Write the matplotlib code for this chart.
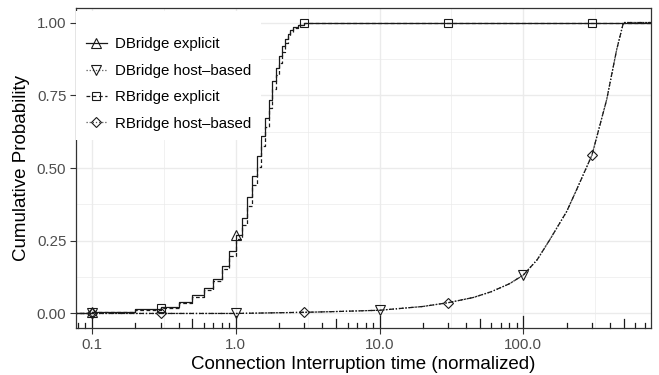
import numpy as np
import matplotlib
matplotlib.use("Agg")
import matplotlib.pyplot as plt
from matplotlib.lines import Line2D
from matplotlib.transforms import blended_transform_factory

plt.rcParams['font.family'] = ['Liberation Sans', 'DejaVu Sans']

# ECDF of the explicit variants (step positions and cumulative probability)
dbr_exp_x = [0.1, 0.2, 0.3, 0.4, 0.5, 0.6, 0.7, 0.8, 0.9, 1.0, 1.1, 1.2, 1.3, 1.4,
             1.5, 1.6, 1.7, 1.8, 1.9, 2.0, 2.1, 2.2, 2.3, 2.4, 2.5, 2.7, 3.0]
dbr_exp_y = [0.005, 0.014, 0.022, 0.040, 0.062, 0.088, 0.120, 0.163, 0.214, 0.271,
             0.329, 0.400, 0.472, 0.541, 0.610, 0.672, 0.735, 0.800, 0.845, 0.885,
             0.920, 0.945, 0.962, 0.975, 0.985, 0.993, 1.000]
rbr_exp_x = dbr_exp_x
rbr_exp_y = [0.004, 0.012, 0.020, 0.036, 0.058, 0.082, 0.112, 0.152, 0.198, 0.255,
             0.305, 0.370, 0.440, 0.505, 0.575, 0.640, 0.705, 0.770, 0.820, 0.860,
             0.900, 0.930, 0.952, 0.968, 0.980, 0.990, 1.000]

# host-based variants follow the same curve
host_x = [0.1, 0.3, 1.0, 3.0, 4.5, 10, 20, 30, 45, 60, 80, 100, 125, 153, 200, 235,
          300, 380, 446, 497]
host_y = [0.0, 0.0, 0.0, 0.004, 0.006, 0.011, 0.024, 0.037, 0.055, 0.075, 0.102,
          0.132, 0.185, 0.254, 0.350, 0.426, 0.544, 0.735, 0.907, 1.0]

# where the point symbols sit on each curve
dbr_exp_marks = [0.1, 1.0]
dbr_host_marks = [0.1, 1.0, 10, 100]
rbr_exp_marks = [0.3, 3.0, 30, 300]
rbr_host_marks = [0.1, 0.3, 3.0, 30, 300]

x_breaks = [0.1, 1.0, 10.0, 100.0]
x_labels = ["0.1", "1.0", "10.0", "100.0"]
y_breaks = [0.0, 0.25, 0.5, 0.75, 1.0]
y_labels = ["0.00", "0.25", "0.50", "0.75", "1.00"]

XMIN, XMAX = 0.0774, 773
INK = '#1a1a1a'


def step_at(xs, ys, v):
    idx = np.searchsorted(xs, v, side='right') - 1
    return ys[idx] if idx >= 0 else 0.0


fig = plt.figure(figsize=(6.59, 3.75), dpi=100)
ax = fig.add_axes([0.1153, 0.1253, 0.8726, 0.8534])
ax.set_xscale('log')
ax.set_xlim(XMIN, XMAX)
ax.set_ylim(-0.05, 1.05)

# grid (major + minor) in theme_bw style
for v in x_breaks:
    ax.axvline(v, color='#ebebeb', lw=1.0, zorder=0)
for v in [10 ** -0.5, 10 ** 0.5, 10 ** 1.5, 10 ** 2.5]:
    ax.axvline(v, color='#ebebeb', lw=0.5, zorder=0)
for v in y_breaks:
    ax.axhline(v, color='#ebebeb', lw=1.0, zorder=0)
for v in [0.125, 0.375, 0.625, 0.875]:
    ax.axhline(v, color='#ebebeb', lw=0.5, zorder=0)

lw = 0.9
# explicit ECDFs as step lines padded to the panel edges
xs = [0.01] + dbr_exp_x + [1000]
ax.plot(xs, [0] + dbr_exp_y + [dbr_exp_y[-1]], drawstyle='steps-post',
        color=INK, lw=lw, ls='-', zorder=3)
ax.plot(xs, [0] + rbr_exp_y + [rbr_exp_y[-1]], drawstyle='steps-post',
        color=INK, lw=lw, ls=(0, (3, 2)), zorder=3)

hx = [0.01] + host_x + [1000]
hy = [0.0] + host_y + [1.0]
ax.plot(hx, hy, color=INK, lw=lw, ls=(0, (4, 1.5, 1, 1.5)), zorder=3)
ax.plot(hx, hy, color=INK, lw=lw, ls=(0, (1, 1.5)), zorder=3)

mk = dict(ms=6.5, mfc='none', mec=INK, mew=0.8, ls='none', zorder=4)
ax.plot(dbr_exp_marks, [step_at(dbr_exp_x, dbr_exp_y, v) for v in dbr_exp_marks],
        marker='^', **mk)
ax.plot(rbr_exp_marks, [step_at(rbr_exp_x, rbr_exp_y, v) for v in rbr_exp_marks],
        marker='s', **dict(mk, ms=5.5))
ax.plot(dbr_host_marks, np.interp(np.log10(dbr_host_marks), np.log10(hx), hy),
        marker='v', **mk)
ax.plot(rbr_host_marks, np.interp(np.log10(rbr_host_marks), np.log10(hx), hy),
        marker='D', **dict(mk, ms=5))

# log ticks along the bottom of the panel
trans = blended_transform_factory(ax.transData, ax.transAxes)
for j in range(-2, 3):
    for k in range(1, 10):
        v = k * 10.0 ** j
        if not XMIN <= v <= XMAX:
            continue
        h = 12 if k == 1 else (9 if k == 5 else 5)
        ax.plot([v, v], [0, h / 320], transform=trans, color=INK, lw=0.9,
                zorder=2, clip_on=False)

ax.set_xticks(x_breaks)
ax.set_xticklabels(x_labels)
ax.xaxis.set_minor_locator(matplotlib.ticker.NullLocator())
ax.set_yticks(y_breaks)
ax.set_yticklabels(y_labels)
ax.tick_params(length=4, width=0.8, color='#333333', labelcolor='#4d4d4d',
               labelsize=10.8, pad=3)
for s in ax.spines.values():
    s.set_color('#333333')
    s.set_linewidth(0.9)
    s.set_zorder(5)

ax.set_xlabel('Connection Interruption time (normalized)', fontsize=13.5, labelpad=3)
ax.set_ylabel('Cumulative Probability', fontsize=13.5, labelpad=5)

handles = [
    Line2D([], [], color=INK, lw=lw, ls='-', marker='^', ms=6.5, mfc='none', mec=INK, mew=0.8),
    Line2D([], [], color='#555555', lw=lw, ls=(0, (1, 1.5)), marker='v', ms=6.5, mfc='none', mec=INK, mew=0.8),
    Line2D([], [], color=INK, lw=lw, ls=(0, (3, 2)), marker='s', ms=5.5, mfc='none', mec=INK, mew=0.8),
    Line2D([], [], color='#555555', lw=lw, ls=(0, (1, 1.5)), marker='D', ms=5, mfc='none', mec=INK, mew=0.8),
]
labels = ['DBridge explicit', 'DBridge host\u2013based', 'RBridge explicit', 'RBridge host\u2013based']
leg = ax.legend(handles, labels, loc='upper left', bbox_to_anchor=(0.0, 0.99),
                title=' ', title_fontsize=3,
                frameon=True, fancybox=False, framealpha=1, facecolor='white',
                edgecolor='none', fontsize=10.8, handlelength=1.4, handletextpad=0.55,
                labelspacing=0.83, borderpad=0.65, borderaxespad=0.0, numpoints=1)
leg.set_zorder(6)

fig.savefig('out.png', dpi=100)
